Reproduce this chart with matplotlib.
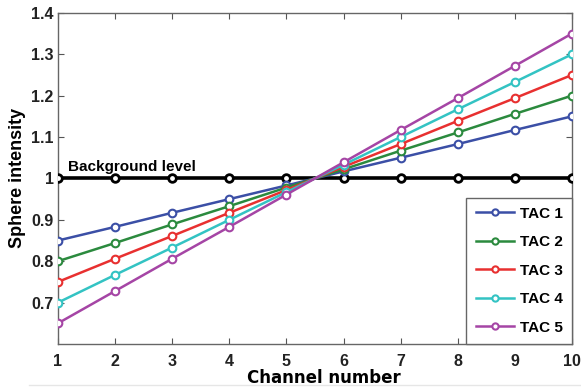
import matplotlib
matplotlib.use("Agg")
import matplotlib.pyplot as plt

channels = [1, 2, 3, 4, 5, 6, 7, 8, 9, 10]
background = [1.0, 1.0, 1.0, 1.0, 1.0, 1.0, 1.0, 1.0, 1.0, 1.0]
tac1 = [0.850, 0.883, 0.917, 0.950, 0.983, 1.017, 1.050, 1.083, 1.117, 1.150]
tac2 = [0.800, 0.844, 0.889, 0.933, 0.978, 1.022, 1.067, 1.111, 1.156, 1.200]
tac3 = [0.750, 0.806, 0.861, 0.917, 0.972, 1.028, 1.083, 1.139, 1.194, 1.250]
tac4 = [0.700, 0.767, 0.833, 0.900, 0.967, 1.033, 1.100, 1.167, 1.233, 1.300]
tac5 = [0.650, 0.728, 0.806, 0.883, 0.961, 1.039, 1.117, 1.194, 1.272, 1.350]
labels = ["TAC 1", "TAC 2", "TAC 3", "TAC 4", "TAC 5"]
colors = ["#3b4fa6", "#2b8a3e", "#e83030", "#33c3c3", "#a545a5"]
yticks = [0.7, 0.8, 0.9, 1.0, 1.1, 1.2, 1.3, 1.4]
ytick_labels = ["0.7", "0.8", "0.9", "1", "1.1", "1.2", "1.3", "1.4"]

fig = plt.figure(figsize=(5.81, 3.9), dpi=100)
ax = fig.add_axes([0.0998, 0.118, 0.8847, 0.849])

ax.plot(channels, background, color="black", lw=2.6, marker="o", ms=5.5,
        mfc="white", mec="black", mew=2.0, zorder=3)
for vals, lab, c in zip([tac1, tac2, tac3, tac4, tac5], labels, colors):
    ax.plot(channels, vals, color=c, lw=1.8, marker="o", ms=5.5,
            mfc="white", mec=c, mew=1.5, label=lab, zorder=4)

ax.set_xlim(1, 10)
ax.set_ylim(0.6, 1.4)
ax.set_xticks(channels)
ax.set_xticklabels([str(c) for c in channels])
ax.set_yticks(yticks)
ax.set_yticklabels(ytick_labels)
ax.tick_params(direction="in", top=True, right=True, length=4, width=0.8,
               color="#555555", labelsize=11.5)
ax.tick_params(axis="x", pad=7)
ax.tick_params(axis="y", pad=3)
for t in ax.get_xticklabels() + ax.get_yticklabels():
    t.set_fontweight("bold")
    t.set_family("Liberation Sans")
    t.set_color("#222222")
for s in ax.spines.values():
    s.set_color("#666666")
    s.set_linewidth(1.0)

ax.set_xlabel("Channel number", fontsize=12, fontweight="bold")
ax.xaxis.set_label_coords(0.517, -0.075)
ax.set_ylabel("Sphere intensity", fontsize=13, fontweight="bold",
              family="Liberation Sans")
ax.yaxis.set_label_coords(-0.062, 0.5)
ax.text(1.18, 1.01, "Background level", fontsize=11, fontweight="bold",
        family="Liberation Sans", ha="left", va="bottom")

leg = ax.legend(loc="lower right", borderaxespad=0, fancybox=False,
                edgecolor="#666666", framealpha=1, handlelength=2.5,
                handletextpad=0.4, labelspacing=0.95, borderpad=0.6,
                prop={"family": "Liberation Sans", "weight": "bold", "size": 11})
leg.get_frame().set_linewidth(1.0)
for h in leg.legend_handles:
    h.set_markersize(4.5)

fig.add_artist(plt.Line2D([0.05, 1.0], [0.012, 0.012], color="#e6e6e6", lw=1.0))

fig.savefig("out.png", dpi=100)
